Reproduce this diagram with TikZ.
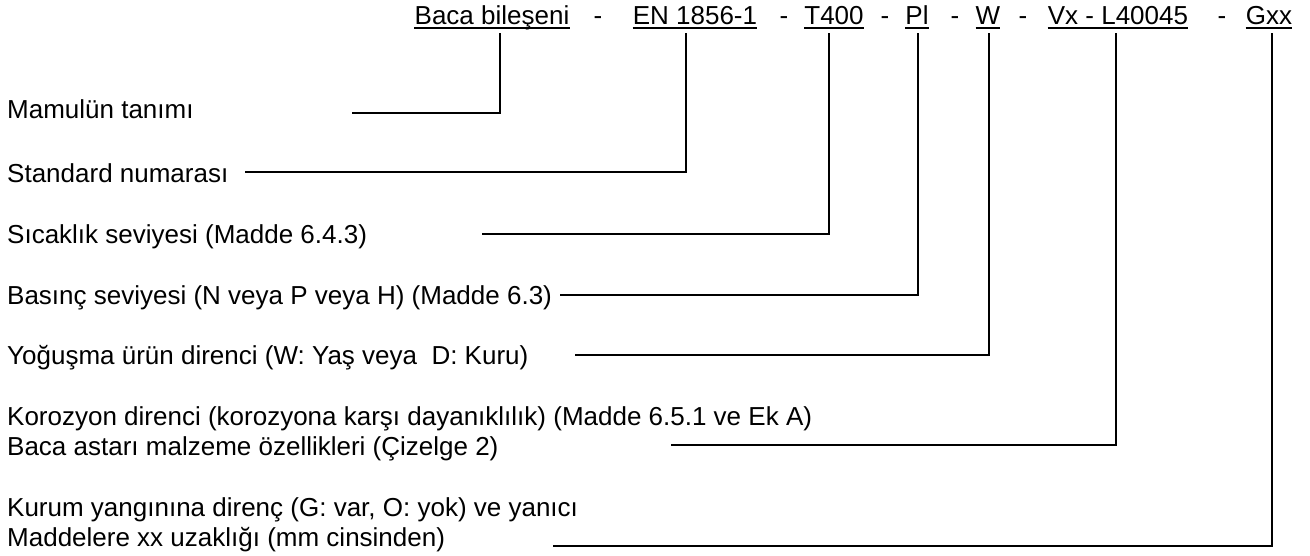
\documentclass[tikz,border=0pt]{standalone}
\usepackage{fontspec}
\setmainfont{Liberation Sans}
\usetikzlibrary{calc}
\begin{document}
\begin{tikzpicture}[x=1pt,y=-1pt,
  lbl/.style={anchor=base west, inner sep=0pt, font=\fontsize{26}{30}\selectfont},
  hdr/.style={anchor=base, inner sep=0pt, font=\fontsize{26}{30}\selectfont},
  ul/.style={line width=1.4pt},
  conn/.style={line width=1.6pt}]
\useasboundingbox (0,0) rectangle (1310,555);
% header
\node[hdr] (h1) at (492,24) {Baca bileşeni};
\node[hdr] (d1) at (598,24) {-};
\node[hdr] (h2) at (695,24) {EN 1856-1};
\node[hdr] (d2) at (784,24) {-};
\node[hdr] (h3) at (834,24) {T400};
\node[hdr] (d3) at (885,24) {-};
\node[hdr] (h4) at (917,24) {Pl};
\node[hdr] (d4) at (955,24) {-};
\node[hdr] (h5) at (988,24) {W};
\node[hdr] (d5) at (1023,24) {-};
\node[hdr] (h6) at (1118,24) {Vx - L40045};
\node[hdr] (d6) at (1222,24) {-};
\node[hdr] (h7) at (1269,24) {Gxx};
\foreach \h in {h1,h2,h3,h4,h5,h6,h7}
  \draw[ul] ($(\h.base west)+(0,4)$) -- ($(\h.base east)+(0,4)$);
% labels
\node[lbl] (m1) at (7,118) {Mamulün tanımı};
\node[lbl] (m2) at (7,182) {Standard numarası};
\node[lbl] (m3) at (7,243) {Sıcaklık seviyesi (Madde 6.4.3)};
\node[lbl] (m4) at (7,304) {Basınç seviyesi (N veya P veya H) (Madde 6.3)};
\node[lbl] (m5) at (7,364) {Yoğuşma ürün direnci (W: Yaş veya\ \ D: Kuru)};
\node[lbl] (m6a) at (7,425) {Korozyon direnci (korozyona karşı dayanıklılık) (Madde 6.5.1 ve Ek A)};
\node[lbl] (m6b) at (7,455) {Baca astarı malzeme özellikleri (Çizelge 2)};
\node[lbl] (m7a) at (7,516) {Kurum yangınına direnç (G: var, O: yok) ve yanıcı};
\node[lbl] (m7b) at (7,546) {Maddelere xx uzaklığı (mm cinsinden)};
% corners and free ends
\coordinate (c1) at (500,113);  \coordinate (e1) at (352,113);
\coordinate (c2) at (686,172);  \coordinate (e2) at (245,172);
\coordinate (c3) at (829,234);  \coordinate (e3) at (482,234);
\coordinate (c4) at (918,295);  \coordinate (e4) at (560,295);
\coordinate (c5) at (989,355);  \coordinate (e5) at (575,355);
\coordinate (c6) at (1116,445); \coordinate (e6) at (671,445);
\coordinate (c7) at (1272,546); \coordinate (e7) at (553,546);
\draw[conn] ($(h1.base -| c1)+(0,9)$) -- (c1) -- (e1);
\draw[conn] ($(h2.base -| c2)+(0,9)$) -- (c2) -- (e2);
\draw[conn] ($(h3.base -| c3)+(0,9)$) -- (c3) -- (e3);
\draw[conn] ($(h4.base -| c4)+(0,9)$) -- (c4) -- (e4);
\draw[conn] ($(h5.base -| c5)+(0,9)$) -- (c5) -- (e5);
\draw[conn] ($(h6.base -| c6)+(0,9)$) -- (c6) -- (e6);
\draw[conn] ($(h7.base -| c7)+(0,9)$) -- (c7) -- (e7);
\end{tikzpicture}
\end{document}
